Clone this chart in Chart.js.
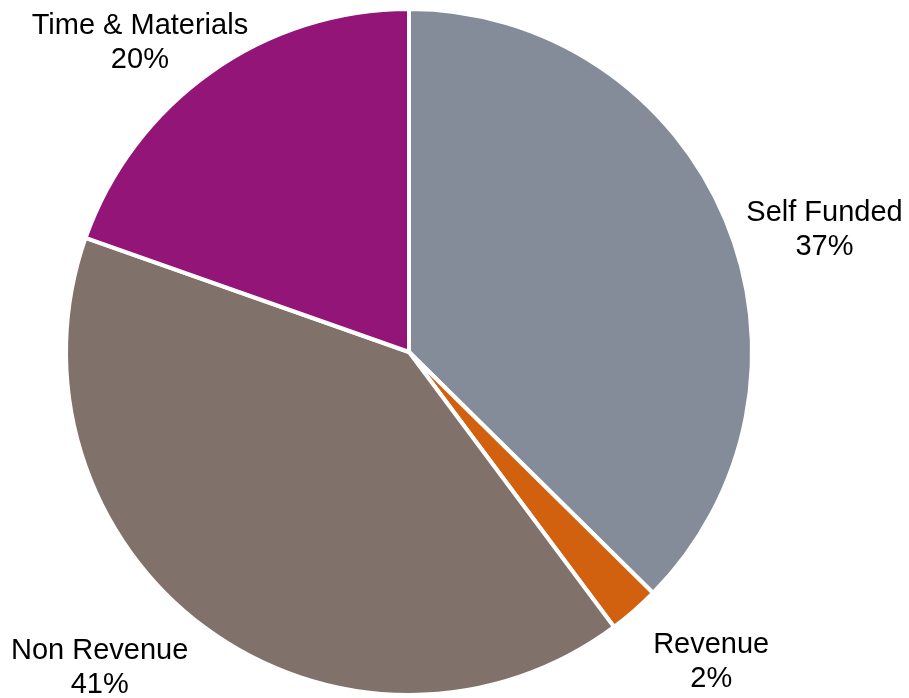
<!DOCTYPE html>
<html>
<head>
<meta charset="utf-8">
<script src="https://cdn.jsdelivr.net/npm/chart.js@4"></script>
<style>
  body { margin: 0; background: #fff; }
  #wrap { width: 909px; height: 698px; }
</style>
</head>
<body>
<div id="wrap"><canvas id="canvas"></canvas></div>
<script>
// share of work by funding type
let categories = ['Self Funded', 'Revenue', 'Non Revenue', 'Time & Materials'];
let shares = [37.4, 2.4, 40.6, 19.6];
let sliceColors = ['#848c9a', '#d2610f', '#80726a', '#931578'];

// label text = name on one line, rounded percentage underneath
let pctLabels = shares.map(v => Math.round(v) + '%');

// draws the two-line labels outside each slice, anchored at the slice's
// outer edge (mid angle) and pushed out by a per-label offset
const outsideLabels = {
  id: 'outsideLabels',
  afterDatasetsDraw(chart, args, opts) {
    let ctx = chart.ctx;
    let arcs = chart.getDatasetMeta(0).data;
    ctx.save();
    ctx.font = opts.font;
    ctx.fillStyle = opts.color;
    ctx.textAlign = 'center';
    ctx.textBaseline = 'alphabetic';
    arcs.forEach((arc, i) => {
      let p = arc.getProps(['x', 'y', 'startAngle', 'endAngle', 'outerRadius'], true);
      let mid = (p.startAngle + p.endAngle) / 2;
      let ax = p.x + Math.cos(mid) * p.outerRadius;
      let ay = p.y + Math.sin(mid) * p.outerRadius;
      let off = opts.offsets[i];
      let x = ax + off[0];
      let y = ay + off[1];
      ctx.fillText(categories[i], x, y);
      ctx.fillText(pctLabels[i], x, y + opts.lineHeight);
    });
    ctx.restore();
  }
};

let options = {
  type: 'pie',
  data: {
    labels: categories,
    datasets: [{
      data: shares,
      backgroundColor: sliceColors,
      borderColor: '#ffffff',
      borderWidth: 4
    }]
  },
  options: {
    responsive: true,
    maintainAspectRatio: false,
    animation: false,
    layout: {
      padding: { left: 64, right: 155, top: 7, bottom: 1 }
    },
    plugins: {
      legend: { display: false },
      tooltip: { enabled: false },
      outsideLabels: {
        font: '29px "Liberation Sans", Arial, sans-serif',
        color: '#000000',
        lineHeight: 34,
        offsets: [[99, 1], [77, 42], [-106, 31], [-71, -38]]
      }
    }
  },
  plugins: [outsideLabels]
};

let chart = new Chart(document.getElementById('canvas'), options);
</script>
</body>
</html>
